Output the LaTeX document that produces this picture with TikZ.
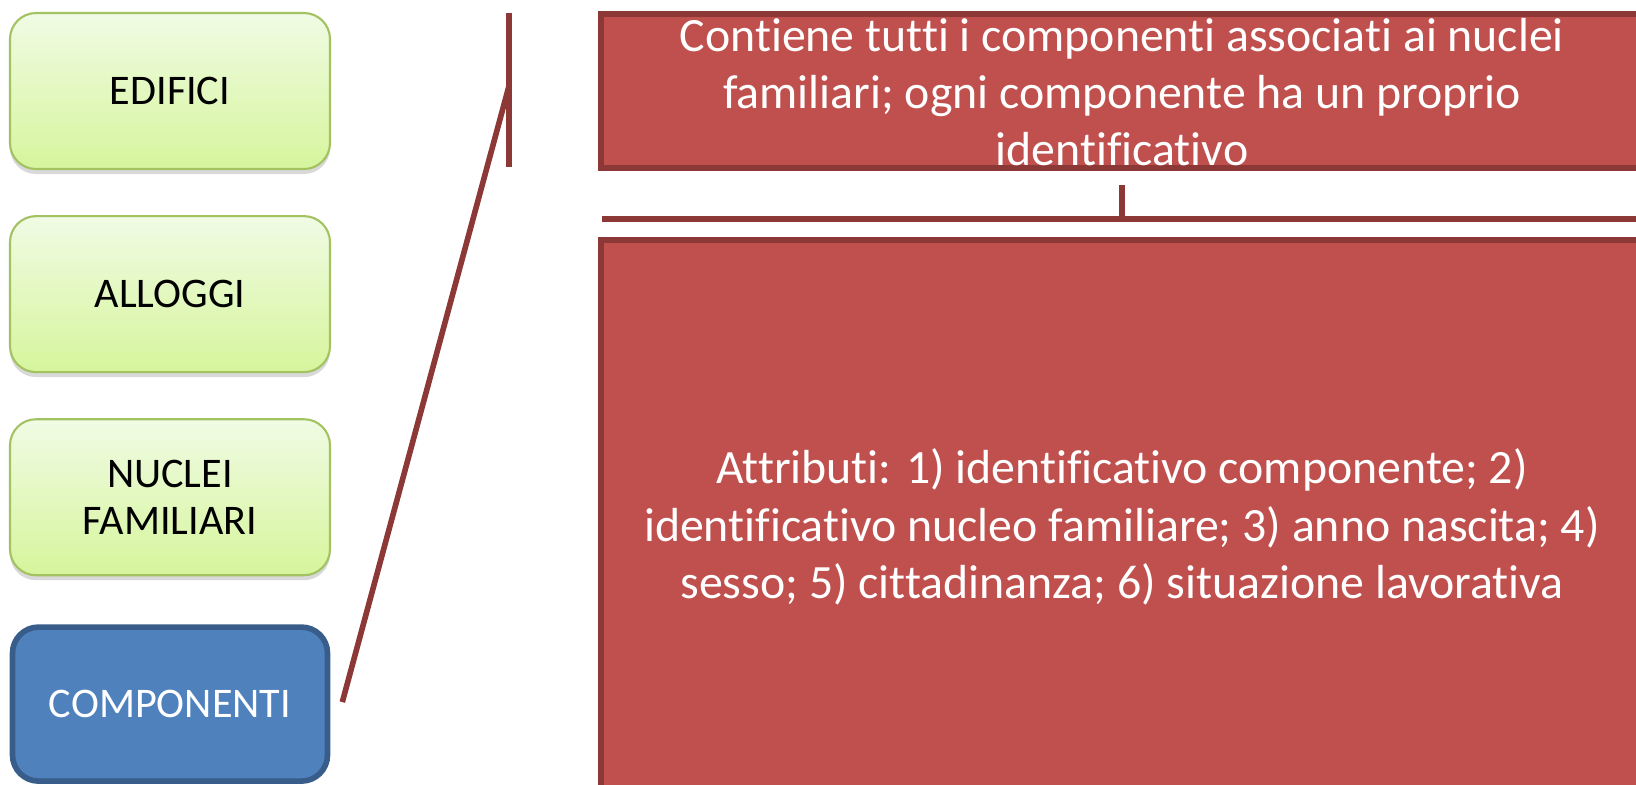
\documentclass[tikz,border=0pt]{standalone}
\usepackage{fontspec}
\setmainfont[Ligatures=NoCommon]{Carlito}
\usetikzlibrary{shadows,positioning}
\definecolor{greenline}{HTML}{A3C262}
\definecolor{greentop}{HTML}{F0FBE4}
\definecolor{greenbot}{HTML}{D6F59C}
\definecolor{bluefill}{HTML}{4F81BD}
\definecolor{blueline}{HTML}{385D8A}
\definecolor{redfill}{HTML}{C0504D}
\definecolor{redline}{HTML}{8C3836}

\begin{document}
\begin{tikzpicture}[
    level/.style={draw=greenline, line width=0.6pt, rounded corners=0.26cm,
        top color=greentop, bottom color=greenbot,
        minimum width=3.2cm, minimum height=1.56cm, align=center,
        font=\fontsize{12}{13.2}\selectfont,
        drop shadow={shadow xshift=0pt, shadow yshift=-0.05cm, opacity=0.3}},
    chosen/.style={draw=blueline, fill=bluefill, line width=1.6pt, rounded corners=0.26cm,
        minimum width=3.15cm, minimum height=1.54cm, text=white,
        font=\fontsize{12}{13.2}\selectfont},
    panel/.style={draw=redline, fill=redfill, line width=1.8pt,
        minimum width=10.42cm, inner sep=0pt},
    paneltext/.style={text=white, align=center, font=\fontsize{13.6}{16.3}\selectfont},
    link/.style={draw=redline, line width=1.6pt}
]
    \useasboundingbox (0,0) rectangle (16.36,-7.84);
    \clip (0,0) rectangle (16.36,-7.84);

    % levels on the left
    \node[level] (edifici) at (1.70,-0.91) {EDIFICI};
    \node[level, below=0.45cm of edifici] (alloggi) {ALLOGGI};
    \node[level, below=0.45cm of alloggi] (nuclei) {NUCLEI\\FAMILIARI};
    \node[chosen, below=0.48cm of nuclei] (componenti) {COMPONENTI};

    % panels on the right
    \node[panel, minimum height=1.54cm] (descr) at (11.22,-0.91) {};
    \node[panel, minimum height=5.72cm] (attr) at (11.22,-5.26) {};
    \node[paneltext] (descrtext) at (11.22,-0.92)
        {Contiene tutti i componenti associati ai nuclei\\
         familiari; ogni componente ha un proprio\\
         identificativo};
    \node[paneltext] (attrtext) at (11.22,-5.27)
        {Attributi: 1) identificativo componente; 2)\\
         identificativo nucleo familiare; 3) anno nascita; 4)\\
         sesso; 5) cittadinanza; 6) situazione lavorativa};

    % bracket and connectors
    \coordinate (brktop) at (5.09,-0.13);
    \coordinate (brkbot) at (5.09,-1.67);
    \coordinate (brkmid) at (5.09,-0.86);
    \coordinate (rulewest) at (6.02,-2.19);
    \coordinate (ruleeast) at (16.60,-2.19);
    \coordinate (ticktop) at (11.22,-1.85);

    \draw[link] (brktop) -- (brkbot);
    \draw[link] ([xshift=0.12cm,yshift=0.02cm]componenti.east) -- (brkmid);
    \draw[link] (rulewest) -- (ruleeast);
    \draw[link] (ticktop) -- (ticktop |- rulewest);
\end{tikzpicture}
\end{document}
